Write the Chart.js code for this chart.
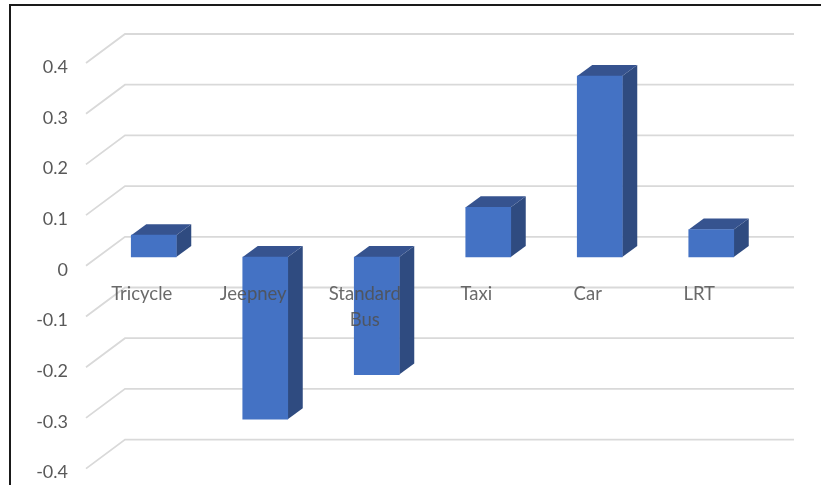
<!DOCTYPE html>
<html>
<head>
<meta charset="utf-8">
<style>
  html, body { margin: 0; padding: 0; background: #fff; }
  #wrap { position: relative; width: 821px; height: 485px; overflow: hidden; }
  #frame { position: absolute; left: 9px; top: 4px; right: -5px; bottom: -5px; border: 2px solid #1a1a1a; box-sizing: border-box; }
  canvas { position: absolute; left: 0; top: 0; filter: blur(0.4px); }
</style>
<script src="https://cdn.jsdelivr.net/npm/chart.js@4"></script>
</head>
<body>
<div id="wrap">
  <canvas id="chart" width="821" height="485"></canvas>
  <div id="frame"></div>
</div>
<script>
// Chart data
const categories = ['Tricycle', 'Jeepney', ['Standard', 'Bus'], 'Taxi', 'Car', 'LRT'];
const values = [0.043, -0.32, -0.232, 0.098, 0.357, 0.054];
const tickLabels = ['0.4', '0.3', '0.2', '0.1', '0', '-0.1', '-0.2', '-0.3', '-0.4'];

// Fake 3D: the plane of the walls sits behind the tick labels, the bars in between
const wallShift = { x: 39, y: -33 };
const gridStartY = -4;
const barShift = { x: 12, y: -12.8 };
const barDepth = { x: 15, y: -11 };

const wall3d = {
    id: 'wall3d',
    beforeDatasetsDraw(chart) {
        const { ctx, chartArea, scales } = chart;
        ctx.save();
        ctx.strokeStyle = '#d9d9d9';
        ctx.lineWidth = 1.8;
        scales.y.ticks.forEach(tick => {
            const y = scales.y.getPixelForValue(tick.value);
            ctx.beginPath();
            ctx.moveTo(chartArea.left, y + gridStartY);
            ctx.lineTo(chartArea.left + wallShift.x, y + wallShift.y);
            ctx.lineTo(chartArea.right + wallShift.x, y + wallShift.y);
            ctx.stroke();
        });
        ctx.restore();
    },
    beforeDatasetDraw(chart) {
        const { ctx } = chart;
        ctx.save();
        ctx.translate(barShift.x, barShift.y);
        // side and top faces, the library draws the front
        chart.getDatasetMeta(0).data.forEach(bar => {
            const left = bar.x - bar.width / 2;
            const right = bar.x + bar.width / 2;
            const top = Math.min(bar.y, bar.base);
            const bottom = Math.max(bar.y, bar.base);
            ctx.fillStyle = '#2f4b80';
            ctx.beginPath();
            ctx.moveTo(right, top);
            ctx.lineTo(right + barDepth.x, top + barDepth.y);
            ctx.lineTo(right + barDepth.x, bottom + barDepth.y);
            ctx.lineTo(right, bottom);
            ctx.closePath();
            ctx.fill();
            ctx.fillStyle = '#36538f';
            ctx.beginPath();
            ctx.moveTo(left, top);
            ctx.lineTo(left + barDepth.x, top + barDepth.y);
            ctx.lineTo(right + barDepth.x, top + barDepth.y);
            ctx.lineTo(right, top);
            ctx.closePath();
            ctx.fill();
        });
    },
    afterDatasetDraw(chart) {
        chart.ctx.restore();
    }
};

new Chart(document.getElementById('chart'), {
    type: 'bar',
    data: {
        labels: categories,
        datasets: [{
            data: values,
            backgroundColor: '#4472c4',
            barThickness: 45,
            clip: false
        }]
    },
    options: {
        responsive: false,
        animation: false,
        layout: { padding: { left: 0, right: 66, top: 67, bottom: 12.4 } },
        plugins: { legend: { display: false }, tooltip: { enabled: false } },
        scales: {
            x: {
                position: { y: 0 },
                afterFit(scale) { scale.height = 0; },
                grid: { display: false },
                border: { display: false },
                ticks: {
                    z: 1,
                    color: 'rgba(80, 80, 80, 0.85)',
                    font: { family: 'Lato', size: 18.5, lineHeight: 1.4 },
                    padding: 3.2,
                    maxRotation: 0,
                    autoSkip: false
                }
            },
            y: {
                min: -0.4,
                max: 0.4,
                afterFit(scale) {
                    scale.width = 86;
                    scale.paddingTop = 0;
                    scale.paddingBottom = 0;
                },
                afterBuildTicks(scale) {
                    scale.ticks = tickLabels.map(label => ({ value: Number(label) }));
                },
                grid: { display: false, drawTicks: false },
                border: { display: false },
                ticks: {
                    color: '#595959',
                    font: { family: 'Lato', size: 18 },
                    padding: 18,
                    callback: value => String(value)
                }
            }
        }
    },
    plugins: [wall3d]
});
</script>
</body>
</html>
